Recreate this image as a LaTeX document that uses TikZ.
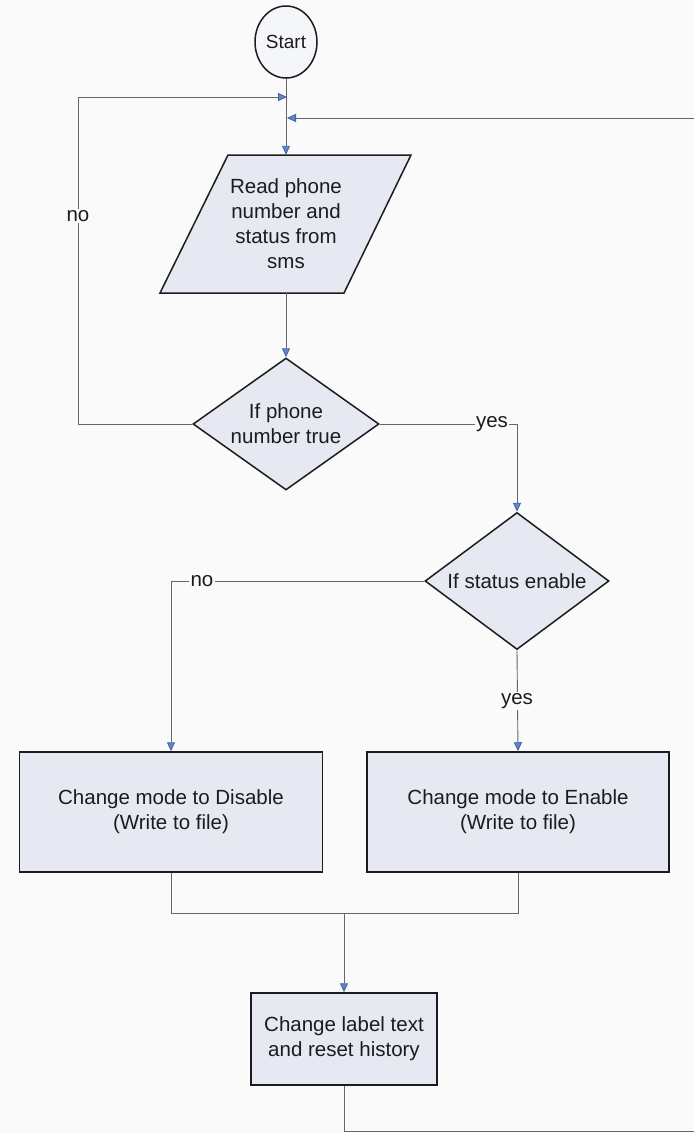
\documentclass[tikz,border=0pt]{standalone}
\usepackage{fontspec}
\setmainfont{Liberation Sans}
\usetikzlibrary{shapes.geometric,arrows.meta}
\definecolor{paper}{HTML}{FAFAFA}
\definecolor{boxfill}{HTML}{E6E9F2}
\definecolor{wire}{HTML}{66666C}
\definecolor{tipblue}{HTML}{5F86D0}
\definecolor{ink}{HTML}{1C1C1C}
\begin{document}
\begin{tikzpicture}[x=1pt,y=-1pt,
  font=\fontsize{20.5}{25}\selectfont, text=ink,
  shapebox/.style={draw=ink, line width=1.5pt, fill=boxfill},
  procbox/.style={shapebox, rectangle, align=center, inner sep=0pt},
  decision/.style={shapebox, diamond, inner sep=0pt},
  wirepath/.style={draw=wire, line width=0.9pt},
  arr/.style={wirepath, -{Triangle[length=9pt,width=8pt,color=tipblue!75!black,fill=tipblue]}},
  tag/.style={fill=paper, inner sep=1.5pt, text=ink}]
  % page
  \fill[paper] (0,0) rectangle (694,1133);
  \useasboundingbox (0,0) rectangle (694,1133);

  % start terminal
  \node[shapebox, ellipse, minimum width=62pt, minimum height=72pt, inner sep=0pt,
        fill=boxfill!40!white, font=\fontsize{19}{23}\selectfont] (start) at (286,42) {Start};

  % input: read sms
  \draw[shapebox] (228,155) -- (411,155) -- (344,293) -- (160,293) -- cycle;
  \node[align=center, minimum width=120pt, minimum height=138pt, inner sep=0pt]
       (read) at (286,224) {Read phone\\number and\\status from\\sms};

  % decisions
  \node[decision, minimum width=186pt, minimum height=132pt,
        label={[align=center]center:If phone\\number true}] (d1) at (286,424) {};
  \node[decision, minimum width=184pt, minimum height=137pt,
        label={center:If status enable}] (d2) at (517,581) {};

  % processes
  \node[procbox, minimum width=303pt, minimum height=120pt] (dis) at (171,812)
       {Change mode to Disable\\(Write to file)};
  \node[procbox, minimum width=302pt, minimum height=120pt] (ena) at (518,812)
       {Change mode to Enable\\(Write to file)};
  \node[procbox, minimum width=186pt, minimum height=92pt] (lbl) at (344,1039)
       {Change label text\\and reset history};

  % junctions on the main line
  \coordinate (jnA) at (287,97);
  \coordinate (jnB) at (287,118);
  \coordinate (loopR) at (694,118);
  \coordinate (loopB) at (694,1131);
  \coordinate (merge) at (344,913);

  % connectors
  \draw[arr] (start.south) -- (read.north);
  \draw[arr] (read.south) -- (d1.north);
  \draw[arr] (d1.west) -- (78,424) |- (jnA);
  \node[tag] at (78,216) {no};
  \draw[arr] (loopR) -- (jnB);
  \draw[arr] (d1.east) -| (d2.north);
  \node[tag] at (492,424) {yes};
  \draw[arr] (d2.west) -| (dis.north);
  \node[tag] at (202,581) {no};
  \draw[arr] (d2.south) -- (ena.north);
  \node[tag] at (517,701) {yes};
  \draw[wirepath] (dis.south) |- (merge) -| (ena.south);
  \draw[arr] (merge) -- (lbl.north);
  \draw[wirepath] (lbl.south) |- (loopB);
\end{tikzpicture}
\end{document}
